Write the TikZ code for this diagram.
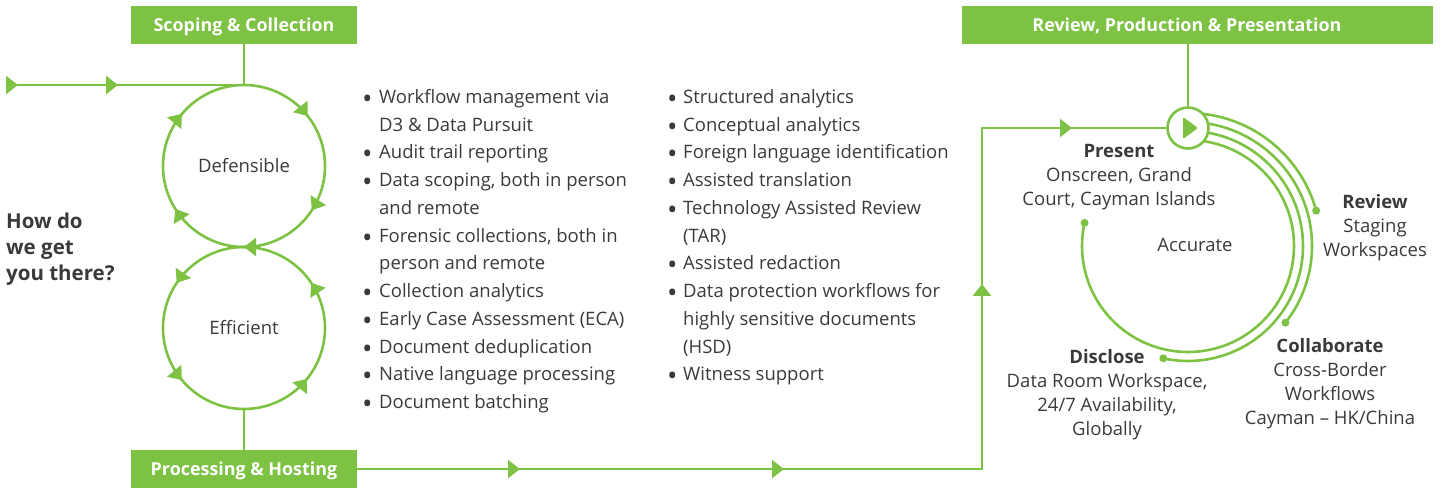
\documentclass[tikz,border=0pt]{standalone}
\usepackage{fontspec}
\usepackage{graphicx}
\setmainfont{Open Sans}
\usetikzlibrary{arrows.meta,decorations.markings}
\definecolor{brand}{HTML}{7DC242}
\definecolor{ink}{HTML}{3A3A3A}
\newcommand\bigdot{\raisebox{-5pt}{\scalebox{1.5}{•}}}
\newcommand\itemdotA{\makebox[14pt][l]{\hspace*{-3pt}\bigdot}}
\newcommand\itemgapA{\hspace*{14pt}}
\newcommand\itemdotB{\makebox[13pt][l]{\hspace*{-3pt}\bigdot}}
\newcommand\itemgapB{\hspace*{13pt}}

\begin{document}
\begin{tikzpicture}[x=1pt,y=1pt,
  flow/.style={draw=brand, line width=2.6pt},
  stage/.style={fill=brand, text=white, font=\fontsize{17.9}{20}\selectfont\bfseries,
    minimum height=38pt, inner sep=0pt, outer sep=0pt, text height=15pt, text depth=2pt},
  stagetext/.style={text=white, font=\fontsize{17.9}{20}\selectfont\bfseries,
    inner sep=0pt, text height=15pt, text depth=2pt},
  loopnode/.style={circle, minimum size=162pt, inner sep=0pt, outer sep=0pt,
    text=ink, font=\fontsize{18.5}{22}\selectfont},
  listline/.style={anchor=base west, inner sep=0pt, text=ink,
    font=\fontsize{18.5}{22}\selectfont},
  caption/.style={align=center, inner sep=0pt, text=ink,
    font=\fontsize{18.5}{24}\selectfont},
  enddot/.style={fill=brand},
  tipA/.tip={Triangle[length=12pt,width=18pt]}
]
\useasboundingbox (0,0) rectangle (1444,-489);

% stage headers
\node[stage, minimum width=226pt] (scope) at (244,-25) {Scoping \& Collection};
\node[stage, minimum width=226pt] (proc) at (244,-469) {Processing \& Hosting};
\node[stage, minimum width=471pt] (review) at (1197.5,-25) {};
\node[stagetext] (reviewtext) at (1187,-25) {Review, Production \& Presentation};

% the two loops
\node[loopnode] (def) at (244,-166) {Defensible};
\node[loopnode] (eff) at (244,-328) {Efficient};

\draw[flow, postaction={decorate}, decoration={markings,
    mark=at position 0.144 with {\arrow{tipA}},
    mark=at position 0.342 with {\arrow{tipA}},
    mark=at position 0.5 with {\arrow{tipA}},
    mark=at position 0.661 with {\arrow{tipA}},
    mark=at position 0.861 with {\arrow{tipA}}}]
  (def.north) arc[start angle=90, end angle=-270, radius=81];
\draw[flow, postaction={decorate}, decoration={markings,
    mark=at position 0.142 with {\arrow{tipA}},
    mark=at position 0.344 with {\arrow{tipA}},
    mark=at position 0.656 with {\arrow{tipA}},
    mark=at position 0.861 with {\arrow{tipA}}}]
  (eff.south) arc[start angle=-90, end angle=270, radius=81];

% incoming line and stage links
\coordinate (start) at (8,-85);
\draw[flow, postaction={decorate}, decoration={markings,
    mark=at position 10pt with {\arrow{tipA}},
    mark=at position 110pt with {\arrow{tipA}}}]
  (start) -- (def.north);
\draw[flow] (scope.south) -- (def.north);
\draw[flow] (eff.south) -- (proc.north);

% presentation cycle
\coordinate (hub) at (1188,-246);
\draw[flow] (hub) ++(90:106) arc[start angle=90, end angle=-192.6, radius=106];
\draw[flow] (hub) ++(90:115) arc[start angle=90, end angle=-102.4, radius=115];
\draw[flow] (hub) ++(90:124) arc[start angle=90, end angle=-38.2, radius=124];
\draw[flow] (hub) ++(90:133) arc[start angle=90, end angle=15.4, radius=133];
\fill[enddot] (hub) ++(167.4:106) circle (4);
\fill[enddot] (hub) ++(-102.4:115) circle (4);
\fill[enddot] (hub) ++(-38.2:124) circle (4);
\fill[enddot] (hub) ++(15.4:133) circle (4);

\node[circle, draw=brand, line width=2.6pt, fill=white, minimum size=41pt,
  inner sep=0pt] (play) at (1188,-128) {};
\fill[brand, rounded corners=1pt] ([shift={(-5,11)}]play.center)
  -- ([shift={(-5,-11)}]play.center) -- ([shift={(10,0)}]play.center) -- cycle;

\draw[flow] (play.north |- review.south) -- (play.north);
\draw[flow, postaction={decorate}, decoration={markings,
    mark=at position 163pt with {\arrow{tipA}},
    mark=at position 427pt with {\arrow{tipA}},
    mark=at position 810pt with {\arrow{tipA}},
    mark=at position 1056pt with {\arrow{tipA}}}]
  (proc.east) -- ++(625,0) |- (play.west);

% question
\node[anchor=west, align=left, inner sep=0pt, text=ink,
  font=\fontsize{20.5}{26}\selectfont\bfseries] (ask) at (6,-249)
  {How do\\we get\\you there?};

% first list
\foreach \t [count=\i from 0] in {
  \itemdotA Workflow management via,
  \itemgapA D3 \& Data Pursuit,
  \itemdotA Audit trail reporting,
  {\itemdotA Data scoping, both in person},
  \itemgapA and remote,
  {\itemdotA Forensic collections, both in},
  \itemgapA person and remote,
  \itemdotA Collection analytics,
  \itemdotA Early Case Assessment (ECA),
  \itemdotA Document deduplication,
  \itemdotA Native language processing,
  \itemdotA Document batching}
  \node[listline] (la\i) at (365,{-103.5-27.73*\i}) {\t};

% second list
\foreach \t [count=\i from 0] in {
  \itemdotB Structured analytics,
  \itemdotB Conceptual analytics,
  \itemdotB Foreign language identification,
  \itemdotB Assisted translation,
  \itemdotB Technology Assisted Review,
  \itemgapB (TAR),
  \itemdotB Assisted redaction,
  \itemdotB Data protection workflows for,
  \itemgapB highly sensitive documents,
  \itemgapB (HSD),
  \itemdotB Witness support}
  \node[listline] (lb\i) at (670,{-103.5-27.73*\i}) {\t};

% cycle captions
\node[caption] (present) at (1119,-177) {\textbf{Present}\\Onscreen, Grand\\Court, Cayman Islands};
\node[caption] (accurate) at (1195,-245) {Accurate};
\node[caption] (rev) at (1375,-228) {\textbf{Review}\\Staging\\Workspaces};
\node[caption] (collab) at (1330,-384) {\textbf{Collaborate}\\Cross-Border\\Workflows\\Cayman – HK/China};
\node[caption] (disclose) at (1107,-395) {\textbf{Disclose}\\Data Room Workspace,\\24/7 Availability,\\Globally};
\end{tikzpicture}
\end{document}
